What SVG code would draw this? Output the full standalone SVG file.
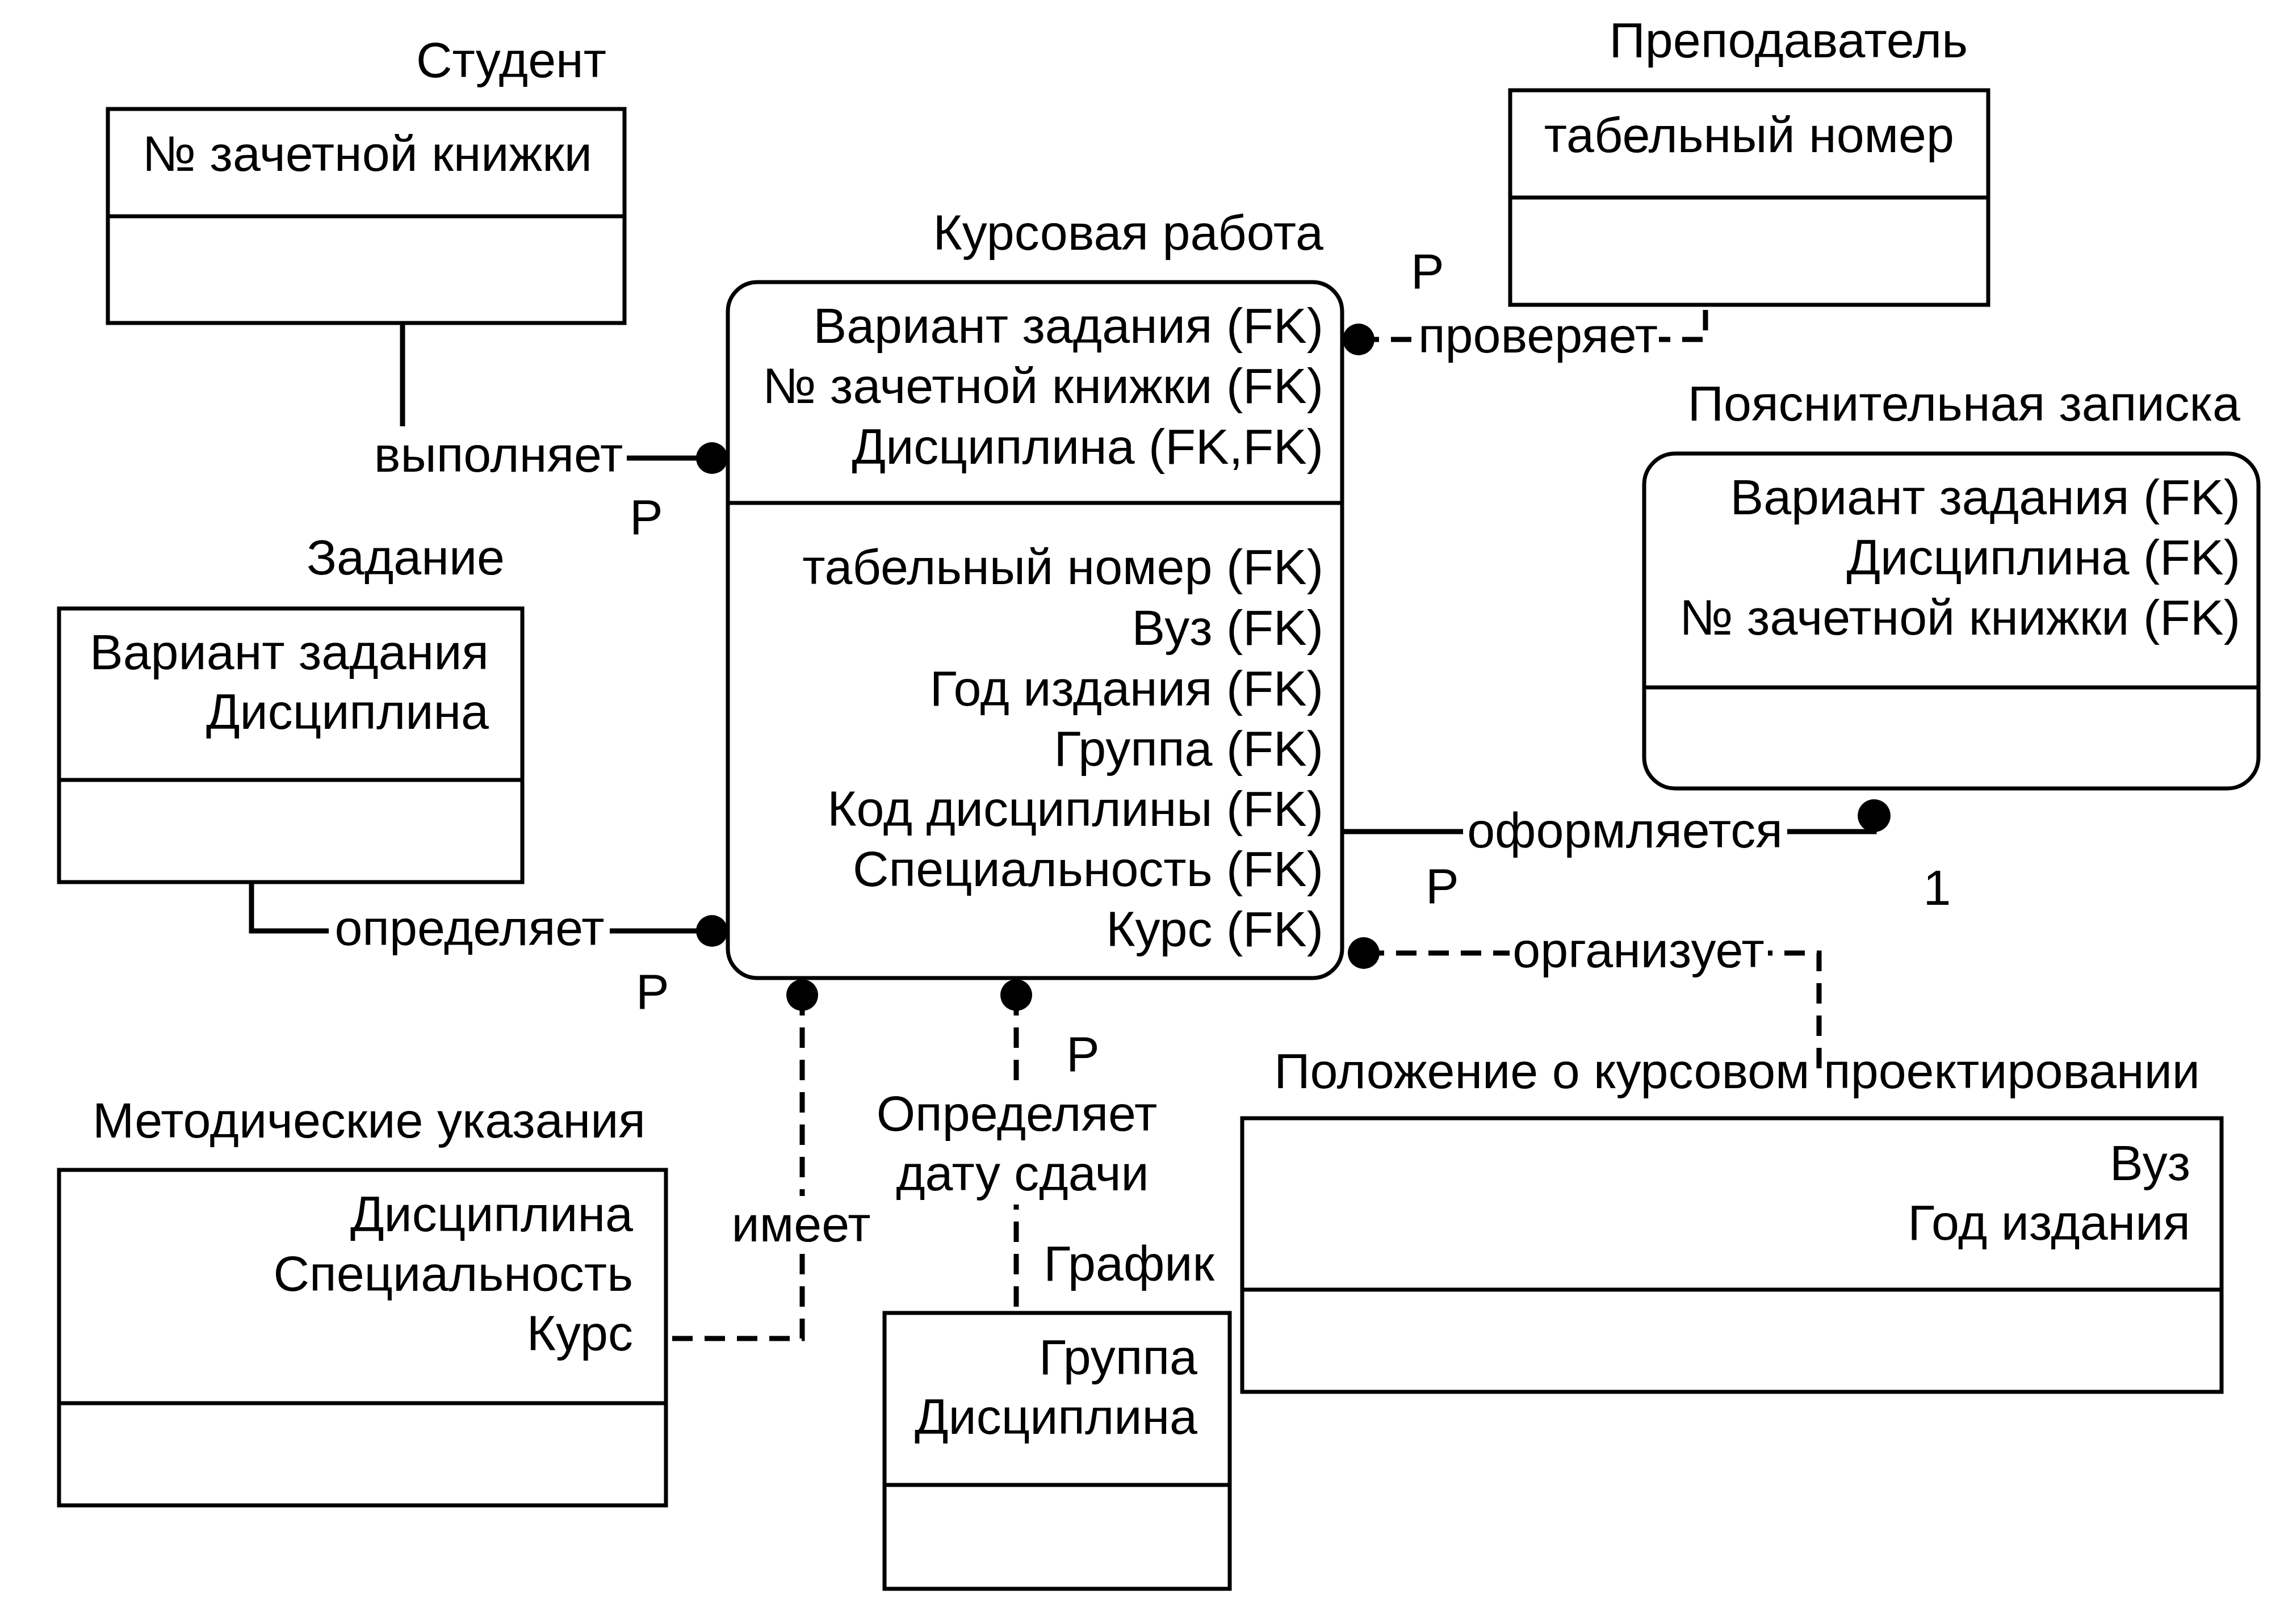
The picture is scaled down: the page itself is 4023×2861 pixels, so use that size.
<svg xmlns="http://www.w3.org/2000/svg" width="4023" height="2861" viewBox="0 0 4023 2861">
<style>
text { font-family: "Liberation Sans", Arial, sans-serif; font-size: 88px; fill: #000; }
.end { text-anchor: end; }
.mid { text-anchor: middle; }
.box { fill: #fff; stroke: #000; stroke-width: 7; }
.div { stroke: #000; stroke-width: 7; fill: none; }
.conn { fill: none; stroke: #000; stroke-width: 9; }
.dash { stroke-dasharray: 36 21; }
.dot { fill: #000; }
.bg { fill: #fff; }
</style>
<rect x="0" y="0" width="4023" height="2861" fill="#fff"/>

<g id="connectors">
  <!-- выполняет -->
  <path class="conn" d="M709,569 V807 H1254"/>
  <circle class="dot" cx="1254" cy="807" r="28"/>
  <!-- определяет -->
  <path class="conn" d="M443,1554 V1640 H1254"/>
  <circle class="dot" cx="1254" cy="1640" r="28"/>
  <!-- проверяет -->
  <path class="conn dash" d="M2393,598 H3004 V537"/>
  <circle class="dot" cx="2393" cy="598" r="28"/>
  <!-- оформляется -->
  <path class="conn" d="M2364,1465 H3301 V1437"/>
  <circle class="dot" cx="3301" cy="1437" r="29"/>
  <!-- организует -->
  <path class="conn dash" d="M2402,1679 H3204 V1897"/>
  <circle class="dot" cx="2402" cy="1679" r="28"/>
  <!-- имеет -->
  <path class="conn dash" d="M1413,1753 V2358 H1173"/>
  <circle class="dot" cx="1413" cy="1753" r="28"/>
  <!-- Определяет дату сдачи -->
  <path class="conn dash" d="M1790,1753 V2313"/>
  <circle class="dot" cx="1790" cy="1753" r="28"/>

  <rect class="bg" x="652" y="751" width="452" height="100"/>
  <text class="mid" x="878" y="831">выполняет</text>
  <rect class="bg" x="579" y="1584" width="495" height="100"/>
  <text class="mid" x="827" y="1665">определяет</text>
  <rect class="bg" x="2496" y="541" width="426" height="100"/>
  <text class="mid" x="2709" y="621">проверяет</text>
  <rect class="bg" x="2577" y="1413" width="571" height="100"/>
  <text class="mid" x="2862" y="1493">оформляется</text>
  <rect class="bg" x="2659" y="1624" width="455" height="100"/>
  <text class="mid" x="2886" y="1704">организует</text>
  <rect class="bg" x="1284" y="2107" width="254" height="100"/>
  <text class="mid" x="1411" y="2187">имеет</text>
  <rect class="bg" x="1535" y="1912" width="512" height="210"/>
  <text class="mid" x="1791" y="1992">Определяет</text>
  <text class="mid" x="1801" y="2097">дату сдачи</text>

  <text x="1109" y="941">P</text>
  <text x="1120" y="1777">P</text>
  <text x="2485" y="508">P</text>
  <text x="2511" y="1591">P</text>
  <text x="1878" y="1887">P</text>
  <text class="mid" x="3412" y="1594">1</text>
</g>

<g id="student">
  <text class="end" x="1068" y="136">Студент</text>
  <rect class="box" x="190" y="192" width="910" height="377"/>
  <line class="div" x1="190" y1="381" x2="1100" y2="381"/>
  <text class="end" x="1043" y="301">№ зачетной книжки</text>
</g>

<g id="kursovaya">
  <text class="end" x="2331" y="440">Курсовая работа</text>
  <rect class="box" x="1282" y="497" width="1082" height="1226" rx="52" ry="52"/>
  <line class="div" x1="1282" y1="886" x2="2364" y2="886"/>
  <text class="end" x="2331" y="604">Вариант задания (FK)</text>
  <text class="end" x="2331" y="710">№ зачетной книжки (FK)</text>
  <text class="end" x="2331" y="817">Дисциплина (FK,FK)</text>
  <text class="end" x="2331" y="1029">табельный номер (FK)</text>
  <text class="end" x="2331" y="1136">Вуз (FK)</text>
  <text class="end" x="2331" y="1243">Год издания (FK)</text>
  <text class="end" x="2331" y="1349">Группа (FK)</text>
  <text class="end" x="2331" y="1455">Код дисциплины (FK)</text>
  <text class="end" x="2331" y="1561">Специальность (FK)</text>
  <text class="end" x="2331" y="1667">Курс (FK)</text>
</g>

<g id="prepodavatel">
  <text class="end" x="3466" y="101">Преподаватель</text>
  <rect class="box" x="2660" y="159" width="842" height="378"/>
  <line class="div" x1="2660" y1="348" x2="3502" y2="348"/>
  <text class="end" x="3442" y="268">табельный номер</text>
</g>

<g id="zapiska">
  <text class="end" x="3946" y="741">Пояснительная записка</text>
  <rect class="box" x="2896" y="799" width="1082" height="590" rx="55" ry="55"/>
  <line class="div" x1="2896" y1="1211" x2="3978" y2="1211"/>
  <text class="end" x="3946" y="906">Вариант задания (FK)</text>
  <text class="end" x="3946" y="1012">Дисциплина (FK)</text>
  <text class="end" x="3946" y="1118">№ зачетной книжки (FK)</text>
</g>

<g id="zadanie">
  <text class="end" x="889" y="1012">Задание</text>
  <rect class="box" x="104" y="1072" width="816" height="482"/>
  <line class="div" x1="104" y1="1374" x2="920" y2="1374"/>
  <text class="end" x="861" y="1179">Вариант задания</text>
  <text class="end" x="861" y="1284">Дисциплина</text>
</g>

<g id="metodicheskie">
  <text class="end" x="1137" y="2004">Методические указания</text>
  <rect class="box" x="104" y="2061" width="1069" height="591"/>
  <line class="div" x1="104" y1="2472" x2="1173" y2="2472"/>
  <text class="end" x="1115" y="2169">Дисциплина</text>
  <text class="end" x="1115" y="2274">Специальность</text>
  <text class="end" x="1115" y="2379">Курс</text>
</g>

<g id="grafik">
  <text class="end" x="2139" y="2256">График</text>
  <rect class="box" x="1558" y="2313" width="608" height="486"/>
  <line class="div" x1="1558" y1="2616" x2="2166" y2="2616"/>
  <text class="end" x="2109" y="2421">Группа</text>
  <text class="end" x="2109" y="2526">Дисциплина</text>
</g>

<g id="polozhenie">
  <text class="end" x="3875" y="1917">Положение о курсовом проектировании</text>
  <rect class="box" x="2188" y="1970" width="1725" height="482"/>
  <line class="div" x1="2188" y1="2272" x2="3913" y2="2272"/>
  <text class="end" x="3858" y="2079">Вуз</text>
  <text class="end" x="3858" y="2184">Год издания</text>
</g>
</svg>
